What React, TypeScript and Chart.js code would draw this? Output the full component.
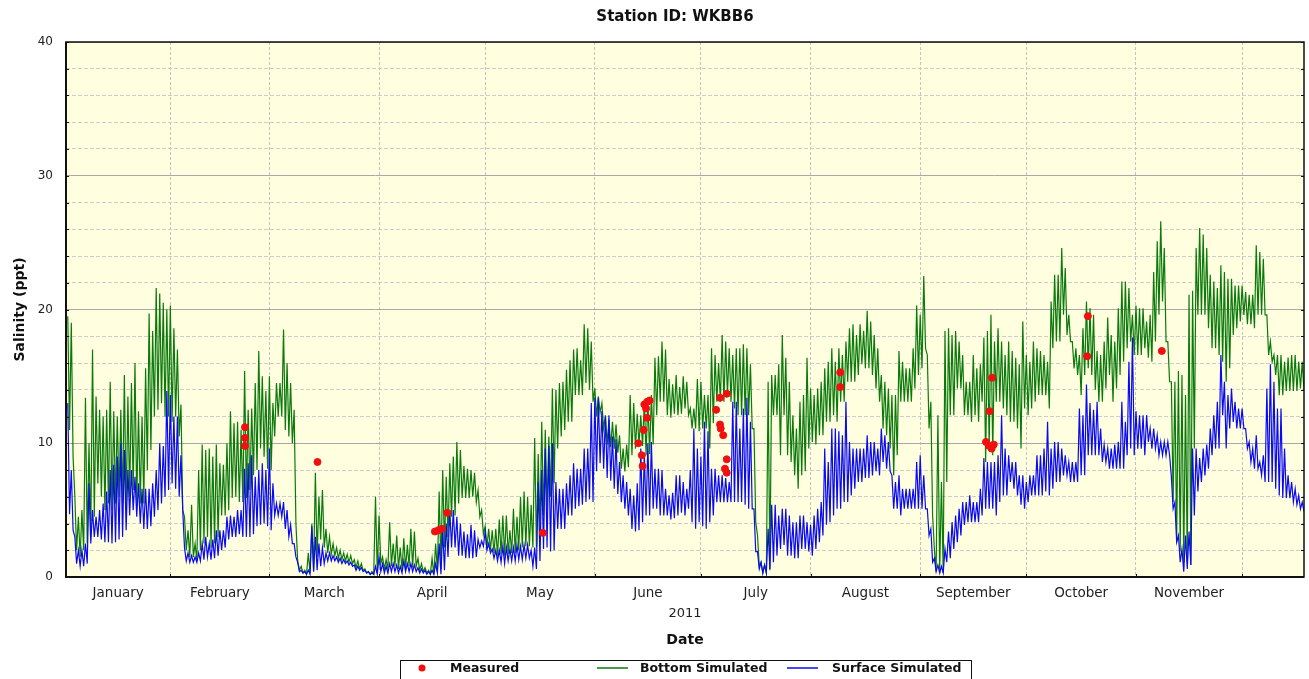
import { useEffect, useRef } from 'react';
import { Chart, registerables } from 'chart.js';

Chart.register(...registerables);

const TITLE = 'Station ID: WKBB6';
const Y_TITLE = 'Salinity (ppt)';
const X_TITLE = 'Date';
const YEAR_LABEL = '2011';

const MONTHS = ['January', 'February', 'March', 'April', 'May', 'June', 'July', 'August', 'September', 'October', 'November'];
// day-of-year (Jan 1 = 0) of each month boundary shown as a vertical grid line
const MONTH_STARTS = [31, 59, 90, 120, 151, 181, 212, 243, 273, 304, 334];
const X_MIN = 1.5;
const X_MAX = 351.5;
const Y_MIN = 0;
const Y_MAX = 40;

// Simulated series: daily high / low, days 2 .. 351
const FIRST_DAY = 2;

const bottomHigh = [
  19.5, 19, 6, 4.5, 5, 13.4, 10, 17, 13.5, 12.5,
  12, 12.5, 14.6, 12.4, 12, 12.5, 15.1, 13.5, 14.5, 16,
  12.4, 12, 15.6, 19.7, 18.4, 21.6, 21.2, 20.5, 20, 20.3,
  18.6, 17, 12.9, 4.5, 3.5, 5.4, 2.5, 8, 9.9, 9.5,
  9.6, 9, 9.9, 8.5, 8.4, 10, 12.4, 11.5, 11.6, 11,
  15.4, 12.5, 12.6, 14.5, 16.9, 15, 13.9, 15, 13, 14.5,
  14.5, 18.5, 16, 14.5, 12.5, 1.2, 0.8, 0.5, 1.8, 4,
  7.8, 6, 6.5, 3.6, 3, 2.5, 2.2, 2, 1.8, 1.7,
  1.6, 1.3, 1.2, 1, 0.6, 0.4, 0.4, 6, 4.6, 1.5,
  1.3, 4.1, 2.5, 3.1, 2.2, 2.9, 2.4, 3.6, 3.4, 1.4,
  1, 0.7, 0.5, 1.4, 2.5, 6.4, 8, 7.5, 8.5, 9,
  10.1, 9.5, 8.3, 8.1, 8, 7.8, 6.5, 5, 3.8, 3.6,
  3.5, 3.6, 4.3, 4.6, 4.6, 3.5, 5.1, 4.5, 6, 6.4,
  6, 5.4, 10.4, 9.2, 11.6, 11, 10.5, 14.1, 14, 14.5,
  14.6, 15.5, 16.2, 17, 17.1, 16.2, 18.9, 18.6, 17.6, 14.1,
  13.5, 13, 12.1, 11.8, 11.6, 11.4, 10.6, 9.6, 9.9, 13.6,
  13, 12.2, 12.1, 13.1, 13.2, 13.6, 16.4, 16.5, 17.6, 17,
  14.8, 14.4, 15.1, 14.2, 15, 14.6, 12.6, 12.6, 14.8, 14.6,
  13.6, 13.6, 17.1, 16.6, 16, 18.1, 17.6, 17.1, 16.6, 17.1,
  17.1, 17.4, 17.1, 15.9, 11.1, 3.1, 1.1, 0.9, 14.6, 15.1,
  15.1, 15.9, 18.1, 16.4, 14.6, 12.1, 11.1, 13.1, 13.6, 16.4,
  14.1, 13.6, 14.1, 14.6, 15.6, 16.1, 17.1, 16.1, 17.1, 16.6,
  17.6, 18.6, 18.9, 18.1, 18.9, 18.4, 19.9, 19.1, 18.1, 17.1,
  15.1, 14.6, 14.1, 13.6, 13.6, 16.9, 16.1, 15.6, 15.6, 17.1,
  20.3, 19.6, 22.5, 16.6, 13.1, 2.1, 12.1, 7.1, 18.4, 18.6,
  18.1, 18.4, 17.6, 16.6, 14.6, 14.6, 16.6, 15.6, 15.9, 17.9,
  18.4, 19.6, 17.6, 18.6, 17.6, 16.6, 17.6, 16.9, 16.4, 15.9,
  19.1, 16.6, 16.1, 17.6, 17.1, 16.9, 16.6, 16.1, 20.6, 22.6,
  22.6, 24.6, 23.1, 19.6, 17.6, 17.1, 16.6, 18.6, 20.6, 20.1,
  19.6, 16.9, 16.6, 17.6, 19.4, 18.1, 17.6, 20.1, 22.1, 22.1,
  21.6, 19.6, 20.3, 20.1, 20.1, 19.1, 19.6, 22.8, 25.1, 26.6,
  24.6, 17.6, 14.6, 14.6, 15.4, 15.1, 13.6, 21.1, 21.4, 24.6,
  26.1, 25.6, 24.6, 22.6, 22.1, 21.6, 23.3, 22.8, 22.3, 22.3,
  21.8, 21.8, 21.8, 21.3, 21.1, 21.1, 24.8, 24.3, 23.8, 19.6,
  17.6, 16.6, 16.6, 16.6, 16.1, 16.4, 16.6, 16.6, 16.1, 16.1,
];
const bottomLow = [
  11, 9, 2, 1.5, 2, 2.5, 3, 4.5, 7, 6,
  5, 5.5, 5, 5.5, 6, 5.5, 5, 6, 6.5, 5.5,
  5.5, 5.5, 8, 9.5, 12, 12.5, 13, 12, 12, 11.6,
  12, 10.5, 5, 2, 1.5, 1.5, 1.2, 2, 2.5, 3,
  2.2, 2.5, 3, 4.6, 4.6, 5, 5.9, 6, 5.6, 5.6,
  5.9, 6.5, 7.6, 8, 9.6, 9, 8.1, 8, 10.5, 12,
  12, 11, 10.5, 10, 4, 0.5, 0.3, 0.2, 0.3, 0.5,
  1.5, 2.8, 2.2, 1.8, 1.7, 1.6, 1.4, 1.3, 1.2, 1.1,
  1, 0.7, 0.6, 0.5, 0.3, 0.2, 0.2, 0.3, 1, 0.6,
  0.6, 0.8, 0.8, 0.6, 0.5, 0.6, 0.8, 0.7, 0.8, 0.5,
  0.4, 0.3, 0.2, 0.2, 0.4, 0.6, 2.2, 3, 4.5, 4.6,
  5.5, 5.9, 5.9, 5.9, 6, 5.6, 4.5, 3.2, 2.2, 2,
  1.8, 1.6, 1.7, 1.6, 1.7, 1.8, 1.8, 2, 2.2, 2.3,
  2.3, 2.2, 2.2, 3.5, 4.6, 5, 6, 7, 9.6, 10.5,
  11, 11.6, 11.6, 13.6, 13.6, 13.6, 14.5, 14, 13.1, 12,
  12.3, 11.1, 9.9, 9.7, 9.6, 9.3, 8.1, 7.9, 8.2, 9.1,
  9.6, 9.9, 9.8, 9.1, 9.2, 9.9, 12.1, 13.1, 13.1, 12.1,
  11.9, 12.2, 12.1, 12.2, 12.6, 12.1, 11.1, 11.1, 10.9, 11.1,
  11.1, 9.6, 11.5, 13.1, 13.1, 13.1, 13.6, 13.1, 12.6, 12.1,
  12.1, 12.1, 12.1, 11.1, 4.1, 0.8, 0.3, 0.3, 0.5, 12.1,
  12.1, 9.1, 12.1, 9.1, 8.6, 7.6, 6.6, 7.6, 7.9, 9.6,
  10.1, 9.9, 10.6, 10.6, 11.6, 11.6, 12.1, 11.6, 13.1, 13.1,
  14.6, 14.6, 14.6, 15.1, 15.9, 15.6, 15.6, 15.1, 14.1, 13.1,
  11.1, 10.6, 9.6, 7.6, 9.1, 13.1, 13.1, 13.1, 13.1, 14.1,
  15.1, 15.6, 17.1, 11.1, 4.6, 0.4, 0.3, 0.3, 7.1, 12.1,
  12.1, 14.1, 14.1, 12.1, 12.1, 11.6, 12.1, 11.6, 13.1, 8.6,
  9.6, 9.1, 13.1, 13.1, 12.6, 12.1, 11.6, 11.6, 11.1, 9.6,
  12.6, 12.1, 12.6, 13.1, 13.6, 13.6, 13.6, 12.6, 17.1, 17.6,
  17.6, 19.6, 18.1, 17.6, 15.6, 15.1, 13.6, 15.1, 15.6, 15.1,
  14, 13.1, 13.1, 14.1, 15.1, 13.1, 14.1, 15.1, 16.1, 17.1,
  17.6, 16.6, 16.6, 16.6, 17.1, 16.4, 16.1, 17.6, 19.6, 20.6,
  17.6, 14.6, 5.6, 2.6, 1.9, 1.1, 1.1, 0.9, 9.6, 19.6,
  19.6, 19.6, 18.6, 17.1, 17.1, 16.6, 16.1, 14.6, 15.6, 18.1,
  18.6, 19.1, 19.6, 18.9, 18.9, 18.6, 19.6, 19.6, 19.6, 16.6,
  16.1, 15.1, 13.6, 13.6, 13.9, 13.9, 13.9, 13.9, 14.1, 13.9,
];
const surfaceHigh = [
  13, 8, 3, 2, 2, 2.5, 7, 5, 4.5, 5,
  5.5, 6.4, 8, 8.4, 9, 10, 9.5, 8, 8, 7.5,
  7, 6.6, 6.6, 6.6, 7, 8, 10, 9.8, 13.9, 13.6,
  12, 12, 9.1, 2.2, 1.8, 1.6, 1.5, 1.8, 2.5, 3,
  2.5, 2.8, 3.5, 3.5, 3.5, 4.5, 4.6, 4.5, 5, 5,
  8.1, 8.5, 9.1, 7.5, 8, 8.5, 8, 9.6, 7, 5.5,
  5.5, 5.6, 5, 3.9, 2.5, 1.1, 0.5, 0.4, 0.5, 3.8,
  3, 2.5, 2.2, 1.8, 1.8, 1.6, 1.5, 1.4, 1.3, 1.2,
  1.1, 0.9, 0.8, 0.7, 0.5, 0.4, 0.3, 0.8, 1.5, 1,
  0.8, 1, 1, 0.9, 0.8, 1.2, 1, 1, 0.9, 0.7,
  0.6, 0.5, 0.4, 0.5, 1, 2.5, 3.5, 4, 5, 5,
  4.5, 4, 3.4, 3.2, 3.9, 3.5, 2.8, 2.7, 3.4, 2.5,
  2.1, 2, 2, 2.3, 2.2, 2.1, 2.2, 2.4, 2.3, 2.4,
  2.4, 2, 2.2, 7.1, 8, 9.6, 9.8, 10, 7.1, 6.6,
  6.6, 7, 7.6, 8.5, 8.1, 8.1, 9.6, 9.6, 13, 13.4,
  13.4, 12.4, 12, 12.1, 10.5, 10.3, 8.6, 7.6, 7.1, 6.6,
  6.1, 7, 9.6, 9.2, 10, 10.1, 8.1, 8.1, 8, 6.6,
  6.1, 6.3, 7.6, 7.6, 7.1, 6.6, 8, 11.1, 9.6, 9,
  11.6, 10.9, 8.1, 8.1, 7.6, 7.6, 7.4, 7.1, 13.1, 13.1,
  11.1, 12.6, 13.4, 11.6, 5.1, 1.9, 1.1, 0.9, 3.6, 5.4,
  5.4, 4.6, 5.1, 5.1, 4.6, 4.1, 4.1, 4.6, 4.6, 4.1,
  3.9, 4.6, 5.1, 5.6, 9.6, 8.6, 11.1, 11.1, 10.9, 10.6,
  13.1, 10.1, 9.6, 9.6, 9.6, 9.6, 10.6, 10.1, 10.1, 9.6,
  11.1, 10.6, 10.1, 7.6, 7.1, 7.6, 6.6, 6.6, 6.6, 6.6,
  8.6, 9.1, 7.6, 5.1, 3.6, 1.4, 0.9, 0.8, 2.1, 3.4,
  4.1, 4.6, 5.1, 5.6, 5.6, 6.1, 5.6, 5.6, 6.6, 8.9,
  8.6, 8.6, 8.6, 9.1, 12.1, 9.6, 9.1, 8.6, 8.6, 7.6,
  7.6, 7.1, 7.6, 7.6, 9.1, 9.1, 9.6, 11.6, 9.6, 10.1,
  10.1, 9.6, 9.1, 8.6, 8.6, 8.6, 12.6, 12.1, 14.4, 13,
  12.5, 13.1, 11.1, 9.9, 9.6, 9.6, 9.9, 10.1, 13.1, 11.6,
  16.1, 17.9, 12.4, 12.1, 12.1, 12.1, 11.1, 11.1, 10.6, 10.1,
  10.1, 10.1, 7.5, 5.6, 3.1, 2.1, 3.1, 3.4, 9.6, 9.6,
  8.9, 9.6, 9.9, 11.1, 12.1, 13.1, 16.6, 14.6, 13.6, 14.1,
  13.1, 12.6, 12.6, 11.1, 10.1, 9.6, 10.6, 8.6, 9.1, 14.1,
  15.9, 14.6, 12.6, 12.6, 9.6, 7.6, 7.1, 6.6, 6.1, 5.6,
];
const surfaceLow = [
  4.7, 3.5, 1, 0.8, 0.8, 1, 2.5, 3, 3, 2.8,
  2.6, 2.6, 2.5, 2.6, 2.8, 3, 3.5, 4.6, 5, 4.5,
  4, 3.6, 3.6, 3.8, 4.5, 5, 5.5, 6, 6.5, 7,
  6.6, 6, 5, 1.2, 1.1, 1.1, 1.1, 1.2, 1.3, 1.5,
  1.3, 1.4, 1.6, 2, 2.2, 2.8, 3, 3, 3.2, 3,
  3, 3, 3.2, 3.8, 3.9, 4, 3.8, 3.5, 4.6, 4.6,
  4.5, 3.6, 3, 2.5, 1.5, 0.4, 0.3, 0.2, 0.2, 0.4,
  0.5, 0.8, 1, 1.2, 1.2, 1.2, 1.1, 1, 1, 0.9,
  0.8, 0.5, 0.5, 0.4, 0.3, 0.2, 0.2, 0.2, 0.4, 0.3,
  0.3, 0.4, 0.4, 0.3, 0.3, 0.4, 0.4, 0.4, 0.4, 0.3,
  0.3, 0.2, 0.2, 0.2, 0.3, 0.2, 0.5, 1.5, 2.2, 2.2,
  1.6, 1.6, 1.4, 1.4, 1.4, 1.5, 2.2, 2.3, 2, 1.8,
  1.4, 1.2, 1.1, 1, 1.2, 1.2, 1.2, 1.3, 1.3, 1.4,
  1.4, 0.8, 0.6, 1.2, 2.1, 2.2, 1.9, 2, 3.6, 3.6,
  3.6, 4.6, 4.6, 5.1, 5.3, 5.4, 5.6, 5.8, 5.6, 7.9,
  8.5, 8.1, 7.4, 7.2, 6.6, 6.2, 5.6, 5.1, 4.6, 3.6,
  3.4, 3.5, 4.1, 4.6, 4.6, 5.1, 5.1, 4.6, 4.6, 4.6,
  4.3, 4.4, 4.6, 4.8, 4.6, 5.1, 4.1, 3.6, 4.1, 3.8,
  3.6, 4.1, 4.6, 5.6, 5.6, 5.6, 5.6, 5.6, 5.6, 5.6,
  5.6, 5.4, 5.1, 5.1, 1.9, 0.6, 0.3, 0.3, 0.6, 1.1,
  1.6, 2.1, 2.4, 1.6, 1.6, 1.4, 1.4, 2.1, 2.1, 1.9,
  1.6, 2.1, 2.6, 3.1, 3.9, 4.1, 4.6, 5.1, 5.1, 5.6,
  5.6, 6.1, 6.6, 7.1, 7.1, 7.4, 7.4, 7.6, 7.9, 7.6,
  8.6, 8.1, 7.9, 5.1, 5.1, 4.6, 5.1, 5.1, 5.1, 5.1,
  5.1, 5.1, 5.1, 3.1, 1.1, 0.4, 0.3, 0.3, 1.1, 1.4,
  2.1, 2.6, 3.1, 3.9, 4.1, 4.1, 4.1, 4.1, 4.6, 5.1,
  5.1, 5.1, 4.6, 5.6, 6.1, 6.1, 7.1, 6.6, 6.1, 5.4,
  5.1, 5.6, 6.1, 6.1, 6.1, 6.1, 6.4, 6.1, 6.6, 7.1,
  7.1, 7.6, 7.6, 7.1, 7.1, 7.1, 7.6, 7.6, 9.1, 9.1,
  9.1, 9.1, 8.6, 8.6, 8.1, 8.1, 8.1, 8.1, 8.1, 9.1,
  9.6, 9.1, 9.6, 9.6, 9.1, 10.1, 9.6, 9.6, 9.1, 9.1,
  9.1, 9.1, 5.1, 2.6, 1.1, 0.4, 0.6, 0.9, 4.6, 6.4,
  7.1, 7.6, 8.1, 9.1, 9.6, 9.6, 12.1, 9.6, 11.1, 11.6,
  11.1, 11.1, 11.1, 9.6, 8.6, 8.1, 8.1, 7.6, 7.1, 7.1,
  7.1, 6.6, 6.1, 5.9, 5.9, 5.9, 5.6, 5.4, 5.1, 4.9,
];

// Measured samples (day-of-year, ppt)
const measuredDays = [
  52.1, 52.1, 52.1, 72.6, 105.8, 106.8, 107.8, 109.3, 136.3,
  163.3, 164.3, 164.5, 164.8, 165.0, 165.5, 165.8, 165.8, 166.5,
  185.3, 186.4, 188.3, 186.4, 186.6, 187.3, 188.3, 187.8, 188.3,
  220.4, 220.4, 263.3, 262.6, 261.6, 262.5, 263.2, 263.8, 290.4, 290.2, 311.3,
];
const measuredValues = [
  11.2, 10.4, 9.8, 8.6, 3.4, 3.5, 3.6, 4.8, 3.3,
  10.0, 9.1, 8.3, 11.0, 12.9, 12.6, 11.9, 13.1, 13.2,
  12.5, 13.4, 13.7, 11.4, 11.1, 10.6, 8.8, 8.1, 7.8,
  15.3, 14.2, 14.9, 12.4, 10.1, 9.8, 9.6, 9.9, 19.5, 16.5, 16.9,
];

const GREEN = '#0b7a0b';
const BLUE = '#0a0af0';
const RED = '#f01010';
const FONT = "'DejaVu Sans', sans-serif";

function dailyToPoints(high: number[], low: number[]) {
  const pts: { x: number; y: number }[] = [];
  high.forEach((h, i) => {
    const d = FIRST_DAY + i;
    pts.push({ x: d, y: h });
    pts.push({ x: d + 0.5, y: low[i] });
  });
  return pts;
}

const monthLabelDays = MONTHS.map((_, i) => ((i === 0 ? X_MIN : MONTH_STARTS[i - 1]) + MONTH_STARTS[i]) / 2);

const decorPlugin = {
  id: 'decor',
  beforeDraw(chart: any) {
    const { ctx, chartArea: a } = chart;
    ctx.save();
    ctx.fillStyle = '#ffffff';
    ctx.fillRect(0, 0, chart.width, chart.height);
    ctx.fillStyle = '#ffffe0';
    ctx.fillRect(a.left, a.top, a.right - a.left, a.bottom - a.top);
    ctx.restore();
  },
  afterDraw(chart: any) {
    const { ctx, chartArea: a } = chart;
    const xs = chart.scales.x;
    const ys = chart.scales.y;
    ctx.save();
    // frame
    ctx.strokeStyle = '#111';
    ctx.lineWidth = 1.5;
    ctx.strokeRect(a.left, a.top, a.right - a.left, a.bottom - a.top);
    ctx.lineWidth = 2;
    ctx.beginPath();
    ctx.moveTo(a.left, a.top);
    ctx.lineTo(a.left, a.bottom);
    ctx.lineTo(a.right, a.bottom);
    ctx.stroke();
    // small tick marks
    ctx.lineWidth = 1;
    ctx.beginPath();
    for (let v = Y_MIN; v <= Y_MAX; v += 2) {
      const y = Math.round(ys.getPixelForValue(v)) + 0.5;
      ctx.moveTo(a.left, y);
      ctx.lineTo(a.left + 3, y);
      ctx.moveTo(a.right, y);
      ctx.lineTo(a.right - 3, y);
    }
    MONTH_STARTS.forEach((d) => {
      const x = Math.round(xs.getPixelForValue(d)) + 0.5;
      ctx.moveTo(x, a.bottom);
      ctx.lineTo(x, a.bottom - 3);
    });
    ctx.stroke();

    const cx = (a.left + a.right) / 2;
    ctx.fillStyle = '#111';
    ctx.textAlign = 'center';
    ctx.textBaseline = 'middle';
    ctx.font = `bold 15px ${FONT}`;
    ctx.fillText(TITLE, 675, 17);
    ctx.font = `13px ${FONT}`;
    ctx.fillStyle = '#222';
    ctx.fillText(YEAR_LABEL, cx, 614);
    ctx.fillStyle = '#111';
    ctx.font = `bold 14px ${FONT}`;
    ctx.fillText(X_TITLE, cx, 640);
    ctx.save();
    ctx.translate(20, (a.top + a.bottom) / 2);
    ctx.rotate(-Math.PI / 2);
    ctx.fillText(Y_TITLE, 0, 0);
    ctx.restore();

    // legend
    const ly = 668;
    ctx.strokeStyle = '#111';
    ctx.lineWidth = 1;
    ctx.strokeRect(400.5, 660.5, 571, 30);
    ctx.fillStyle = RED;
    ctx.beginPath();
    ctx.arc(422, ly, 3.5, 0, Math.PI * 2);
    ctx.fill();
    ctx.lineWidth = 1.5;
    ctx.strokeStyle = GREEN;
    ctx.beginPath();
    ctx.moveTo(597, ly);
    ctx.lineTo(628, ly);
    ctx.stroke();
    ctx.strokeStyle = BLUE;
    ctx.beginPath();
    ctx.moveTo(787, ly);
    ctx.lineTo(818, ly);
    ctx.stroke();
    ctx.fillStyle = '#111';
    ctx.textAlign = 'left';
    ctx.font = `bold 12.5px ${FONT}`;
    ctx.fillText('Measured', 450, ly + 1);
    ctx.fillText('Bottom Simulated', 640, ly + 1);
    ctx.fillText('Surface Simulated', 832, ly + 1);
    ctx.restore();
  },
};

export default function App() {
  const canvasRef = useRef<HTMLCanvasElement | null>(null);

  useEffect(() => {
    if (!canvasRef.current) return;
    const measured = measuredDays.map((d, i) => ({ x: d, y: measuredValues[i] }));
    const chart = new Chart(canvasRef.current, {
      type: 'line',
      data: {
        datasets: [
          {
            label: 'Measured',
            data: measured,
            showLine: false,
            pointRadius: 3.5,
            pointBackgroundColor: RED,
            pointBorderColor: RED,
            pointBorderWidth: 1,
            order: 0,
          },
          {
            label: 'Surface Simulated',
            data: dailyToPoints(surfaceHigh, surfaceLow),
            borderColor: BLUE,
            borderWidth: 1.2,
            pointRadius: 0,
            tension: 0,
            fill: false,
            order: 1,
          },
          {
            label: 'Bottom Simulated',
            data: dailyToPoints(bottomHigh, bottomLow),
            borderColor: GREEN,
            borderWidth: 1.2,
            pointRadius: 0,
            tension: 0,
            fill: false,
            order: 2,
          },
        ],
      },
      options: {
        responsive: false,
        animation: false,
        devicePixelRatio: 1,
        events: [],
        layout: { padding: { top: 42, left: 0, right: 5, bottom: 72 } },
        plugins: { legend: { display: false }, title: { display: false }, tooltip: { enabled: false } },
        scales: {
          x: {
            type: 'linear',
            min: X_MIN,
            max: X_MAX,
            afterBuildTicks: (scale: any) => {
              const vals = [...MONTH_STARTS, ...monthLabelDays].sort((p, q) => p - q);
              scale.ticks = vals.map((v) => ({ value: v }));
            },
            afterFit: (scale: any) => {
              scale.height = 30;
            },
            ticks: {
              autoSkip: false,
              maxRotation: 0,
              padding: 8,
              color: '#222',
              font: { family: FONT, size: 13.5 },
              callback: (value: any) => {
                const i = monthLabelDays.indexOf(value);
                return i >= 0 ? MONTHS[i] : '';
              },
            },
            grid: {
              drawTicks: false,
              lineWidth: 1,
              color: (c: any) => (c.tick && MONTH_STARTS.includes(c.tick.value) ? '#c4c4c4' : 'rgba(0,0,0,0)'),
            },
            border: { display: false, dash: [3, 2] },
          },
          y: {
            type: 'linear',
            min: Y_MIN,
            max: Y_MAX,
            afterFit: (scale: any) => {
              scale.width = 66;
            },
            ticks: {
              stepSize: 2,
              padding: 13,
              color: '#222',
              font: { family: FONT, size: 12 },
              callback: (v: any) => (Number(v) % 10 === 0 ? String(v) : ''),
            },
            grid: {
              drawTicks: false,
              lineWidth: 1,
              color: (c: any) => (c.tick && c.tick.value % 10 === 0 ? '#a8a8a8' : '#cdcdcd'),
            },
            border: {
              display: false,
              dash: (c: any) => (c.tick && c.tick.value % 10 === 0 ? [] : [4, 2]),
            },
          },
        },
      },
      plugins: [decorPlugin],
    } as any);
    return () => chart.destroy();
  }, []);

  return (
    <div style={{ position: 'absolute', left: 0, top: 0, width: 1309, height: 679 }}>
      <canvas ref={canvasRef} width={1309} height={679} style={{ display: 'block' }} />
    </div>
  );
}
